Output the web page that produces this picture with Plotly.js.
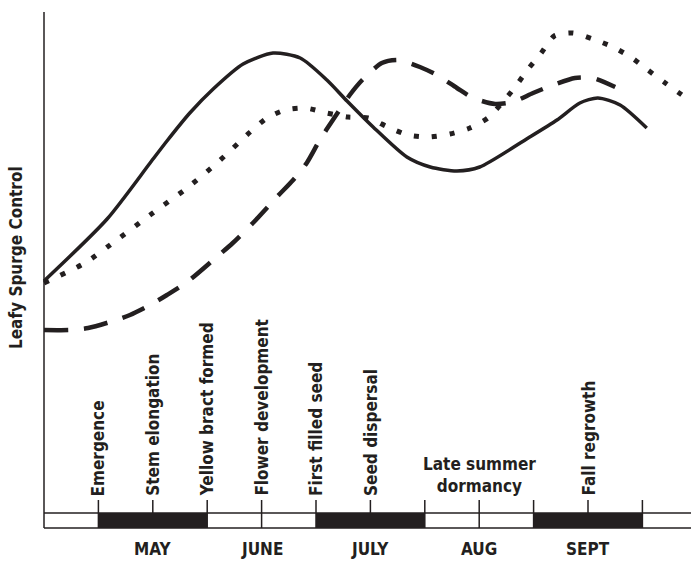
<!DOCTYPE html>
<html><head><meta charset="utf-8">
<script src="https://cdn.plot.ly/plotly-3.0.1.min.js"></script>
<style>html,body{margin:0;padding:0;background:#fff}#chart{width:691px;height:561px}</style>
</head><body><div id="chart"></div>
<script>
// timeline: each integer = half month; month centers at even numbers
const months = ["MAY","JUNE","JULY","AUG","SEPT"];
const monthPos = [2,4,6,8,10];
const stageLabels = ["Emergence","Stem elongation","Yellow bract formed","Flower development","First filled seed","Seed dispersal","Fall regrowth"];
const stagePos = [1,2,3,4,5,6,10];
const dormancyLabel = "Late summer<br>dormancy";
const dormancyPos = 8;
const blackSegments = [[1,3],[5,7],[9,11]];
const tickPos = [1,2,3,4,5,6,7,8,9,10,11];

// control curves (relative units)
const solidX = [0,1.16,1.95,2.26,2.68,3.11,3.66,4.21,4.71,5.20,5.57,6.05,6.67,7.10,7.59,8.01,8.90,9.43,9.85,10.18,10.59,11.08];
const solidY = [49.2,61.6,72.8,77.2,82.8,87.6,92.6,94.8,93.8,89.4,85.2,80.0,74.0,72.0,71.2,72.0,77.8,81.4,84.8,85.8,84.4,79.8];
const dotX = [0,0.75,1.36,2.00,2.63,3.20,3.79,4.10,4.43,4.80,5.20,5.59,5.96,6.32,6.69,7.06,7.46,7.83,8.16,8.42,8.66,8.90,9.14,9.38,9.72,10.09,10.46,10.81,11.10,11.42,11.78];
const dotY = [48.8,52.8,57.6,62.8,67.8,73.0,79.0,81.8,83.4,83.8,82.8,82.0,81.8,80.0,78.4,78.0,78.6,79.8,81.8,84.8,88.0,91.6,94.8,98.2,98.8,97.6,96.0,93.8,91.4,88.8,86.0];
const dashX = [0,0.48,0.81,1.21,1.58,1.95,2.26,2.63,3.11,3.47,3.84,4.28,4.58,4.83,5.07,5.31,5.62,5.85,6.21,6.51,6.91,7.22,7.59,7.89,8.29,8.62,8.99,9.36,9.76,10.09,10.50];
const dashY = [39.4,39.4,39.8,41.0,42.4,44.4,46.4,49.0,53.4,56.8,60.8,66.0,69.4,72.8,77.4,81.4,86.4,89.4,92.8,93.4,92.0,90.4,87.8,85.8,84.6,85.0,86.8,88.4,89.8,89.8,88.0];

const FONT = "DejaVu Sans Condensed, Liberation Sans Narrow, Arial Narrow, sans-serif";
const INK = '#231f20';
const XMIN = -4/54.4, XMAX = 647/54.4;
const BAR_TOP = 2.8, BAR_BOT = -0.2, TICK_TOP = 5.4, AXIS_TOP = 103;

const traces = [
  {x: solidX, y: solidY, mode:'lines', line:{color:INK, width:3.5, shape:'spline', smoothing:0.7}},
  {x: dotX, y: dotY, mode:'lines', line:{color:INK, width:5, dash:'5px,13px', shape:'spline', smoothing:0.7}},
  {x: dashX, y: dashY, mode:'lines', line:{color:INK, width:4.5, dash:'24px,16px', shape:'spline', smoothing:0.7}}
];

const shapes = [];
const L = {color:INK, width:1.5};
shapes.push({type:'line', xref:'x', yref:'y', x0:0, x1:0, y0:BAR_BOT, y1:AXIS_TOP, line:L});
shapes.push({type:'line', xref:'x', yref:'y', x0:0, x1:XMAX, y0:BAR_TOP, y1:BAR_TOP, line:L});
shapes.push({type:'line', xref:'x', yref:'y', x0:0, x1:XMAX, y0:BAR_BOT, y1:BAR_BOT, line:L});
tickPos.forEach(k => shapes.push({type:'line', xref:'x', yref:'y', x0:k, x1:k, y0:BAR_BOT, y1:TICK_TOP, line:L}));
blackSegments.forEach(s => shapes.push({type:'rect', xref:'x', yref:'y', x0:s[0], x1:s[1], y0:BAR_BOT, y1:BAR_TOP, line:{width:0}, fillcolor:INK}));

const annotations = [];
stageLabels.forEach((t,i) => annotations.push({x: stagePos[i], y: 5.8, xref:'x', yref:'y', text:'<b>'+t+'</b>', textangle:-90, showarrow:false, xanchor:'center', yanchor:'bottom', font:{family:FONT, size:17, color:INK}}));
annotations.push({x: dormancyPos, y: 5.8, xref:'x', yref:'y', text:'<b>'+dormancyLabel.replace('<br>','</b><br><b>')+'</b>', showarrow:false, xanchor:'center', yanchor:'bottom', font:{family:FONT, size:17, color:INK}});
months.forEach((m,i) => annotations.push({x: monthPos[i], y: (531-560)/519, xref:'x', yref:'paper', text:'<b>'+m+'</b>', showarrow:false, xanchor:'center', yanchor:'bottom', borderpad:0, font:{family:FONT, size:17, color:INK}}));
annotations.push({x: (16-40)/651, y: 53.8, xref:'paper', yref:'y', text:'<b>Leafy Spurge Control</b>', textangle:-90, showarrow:false, xanchor:'center', yanchor:'middle', font:{family:FONT, size:17, color:INK}});

const layout = {
  width:691, height:561,
  margin:{l:40, r:0, t:12, b:30},
  paper_bgcolor:'#fff', plot_bgcolor:'#fff',
  showlegend:false,
  xaxis:{range:[XMIN, XMAX], showgrid:false, zeroline:false, showticklabels:false, ticks:'', showline:false, fixedrange:true},
  yaxis:{range:[-0.8, 103], showgrid:false, zeroline:false, showticklabels:false, ticks:'', showline:false, fixedrange:true},
  shapes: shapes,
  annotations: annotations
};
Plotly.newPlot('chart', traces, layout, {displayModeBar:false, staticPlot:true});
</script></body></html>
